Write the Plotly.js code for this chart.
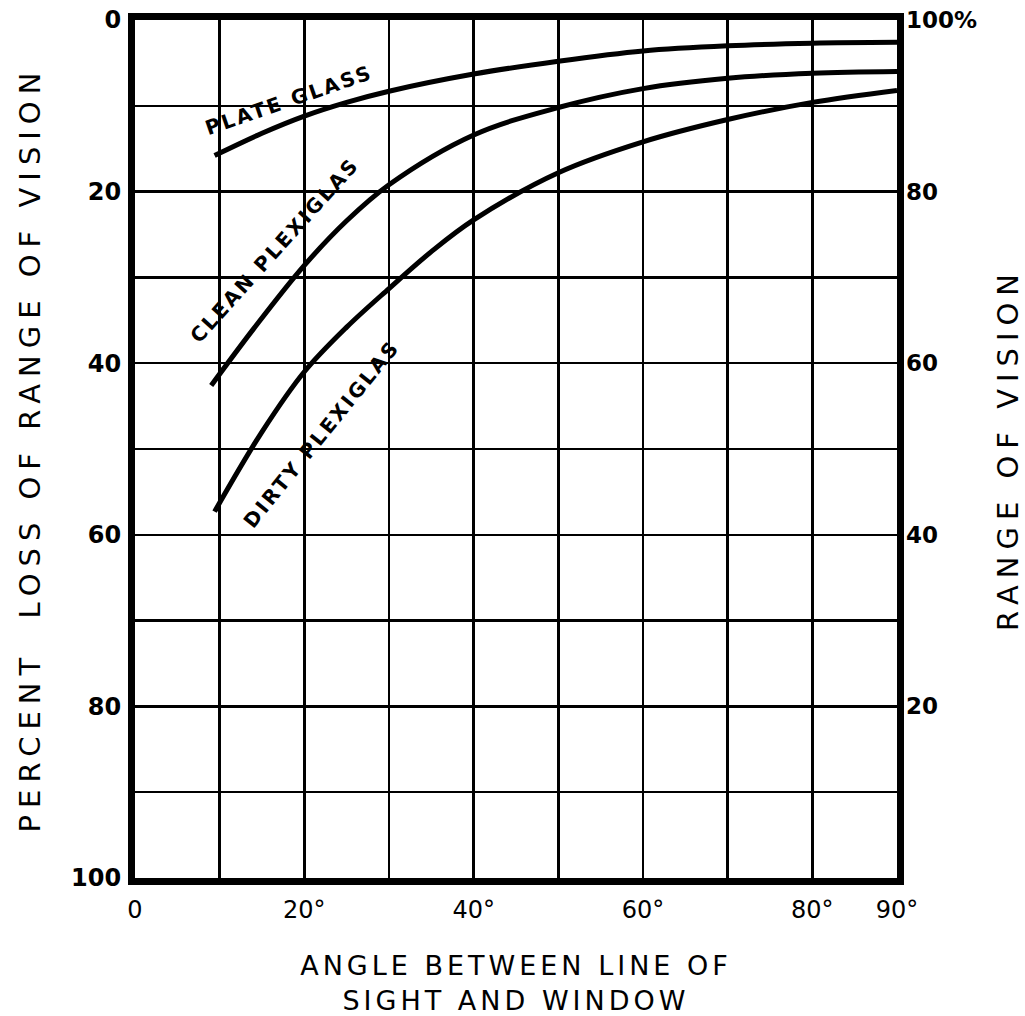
<!DOCTYPE html>
<html>
<head>
<meta charset="utf-8">
<script src="https://cdn.plot.ly/plotly-3.0.1.min.js"></script>
<style>
  html, body { margin: 0; padding: 0; background: #fff; }
  #chart { width: 1025px; height: 1016px; }
  text.ytitle, text.y2title { letter-spacing: 7px; }
  text.xtitle { letter-spacing: 4px; }
  .annotation-text { letter-spacing: 2.5px; }
</style>
</head>
<body>
<div id="chart"></div>
<script>
// Angle between line of sight and window (degrees) and percent loss of range of vision
const plateAngles = [9.4, 15, 20, 25, 30, 40, 50, 60, 70, 80, 90];
const plateGlass  = [15.8, 13.2, 11.2, 9.6, 8.3, 6.3, 4.8, 3.6, 3.0, 2.7, 2.6];

const cleanAngles    = [9.0, 14, 20, 25, 30, 40, 50, 60, 70, 80, 90];
const cleanPlexiglas = [42.6, 36.0, 28.6, 23.4, 19.2, 13.4, 10.2, 8.0, 6.8, 6.2, 6.0];

const dirtyAngles    = [9.4, 15, 20, 25, 30, 35, 40, 50, 60, 70, 80, 90];
const dirtyPlexiglas = [57.3, 48.0, 41.0, 35.8, 31.3, 27.0, 23.3, 17.8, 14.2, 11.6, 9.6, 8.2];

const seriesNames = ["PLATE GLASS", "CLEAN PLEXIGLAS", "DIRTY PLEXIGLAS"];

const xTickVals = [0, 10, 20, 30, 40, 50, 60, 70, 80, 90];
const xTickText = ["0", "", "20°", "", "40°", "", "60°", "", "80°", "90°"];
const yTickVals = [0, 10, 20, 30, 40, 50, 60, 70, 80, 90, 100];
const yTickText = ["0", "", "20", "", "40", "", "60", "", "80", "", "100"];
const y2TickVals = [20, 40, 60, 80, 100];
const y2TickText = ["20", "40", "60", "80", "100%"];

// curve label anchor points (angle, loss) and rotation
const labelX = [18.2, 16.5, 22.0];
const labelY = [9.3, 26.8, 48.2];
const labelAngle = [-19, -48, -51];

const font = "DejaVu Sans, sans-serif";

function line(name, xs, ys) {
  return {
    type: "scatter", mode: "lines", name: name,
    x: xs, y: ys,
    line: { color: "#000", width: 5, shape: "spline", smoothing: 1 },
    hoverinfo: "skip", showlegend: false
  };
}

const data = [
  line(seriesNames[0], plateAngles, plateGlass),
  line(seriesNames[1], cleanAngles, cleanPlexiglas),
  line(seriesNames[2], dirtyAngles, dirtyPlexiglas),
  { type: "scatter", mode: "lines", x: [null], y: [null], yaxis: "y2",
    showlegend: false, hoverinfo: "skip" }
];

const annotations = seriesNames.map((n, i) => ({
  x: labelX[i], y: labelY[i], xref: "x", yref: "y",
  text: n, showarrow: false, textangle: labelAngle[i],
  font: { family: font, size: 20, color: "#000", weight: "bold" }
}));

const layout = {
  width: 1025, height: 1016,
  margin: { l: 135, r: 128, t: 20, b: 138 },
  paper_bgcolor: "#fff", plot_bgcolor: "#fff",
  showlegend: false,
  xaxis: {
    range: [0, 90], tickvals: xTickVals, ticktext: xTickText,
    showgrid: true, gridcolor: "#000", gridwidth: 2.5,
    showline: true, linecolor: "#000", linewidth: 7, mirror: true,
    ticks: "", zeroline: false, ticklabelstandoff: 4,
    tickfont: { family: font, size: 24, color: "#000" },
    title: { text: "ANGLE BETWEEN LINE OF<br>SIGHT AND WINDOW", standoff: 38,
             font: { family: font, size: 27, color: "#000" } }
  },
  yaxis: {
    range: [100, 0], tickvals: yTickVals, ticktext: yTickText,
    showgrid: true, gridcolor: "#000", gridwidth: 2.5,
    showline: true, linecolor: "#000", linewidth: 7, mirror: true,
    ticks: "", zeroline: false, ticklabelstandoff: 2,
    tickfont: { family: font, size: 24, color: "#000", weight: "bold" },
    title: { text: "PERCENT  LOSS OF RANGE OF VISION", standoff: 24,
             font: { family: font, size: 29, color: "#000" } }
  },
  yaxis2: {
    overlaying: "y", side: "right", range: [0, 100],
    tickvals: y2TickVals, ticktext: y2TickText,
    showgrid: false, zeroline: false, showline: false, ticks: "",
    ticklabelstandoff: 8,
    tickfont: { family: font, size: 23, color: "#000", weight: "bold" },
    title: { text: "RANGE OF VISION", standoff: 30,
             font: { family: font, size: 29, color: "#000" } }
  },
  annotations: annotations
};

Plotly.newPlot("chart", data, layout, { displayModeBar: false, staticPlot: true });
</script>
</body>
</html>
